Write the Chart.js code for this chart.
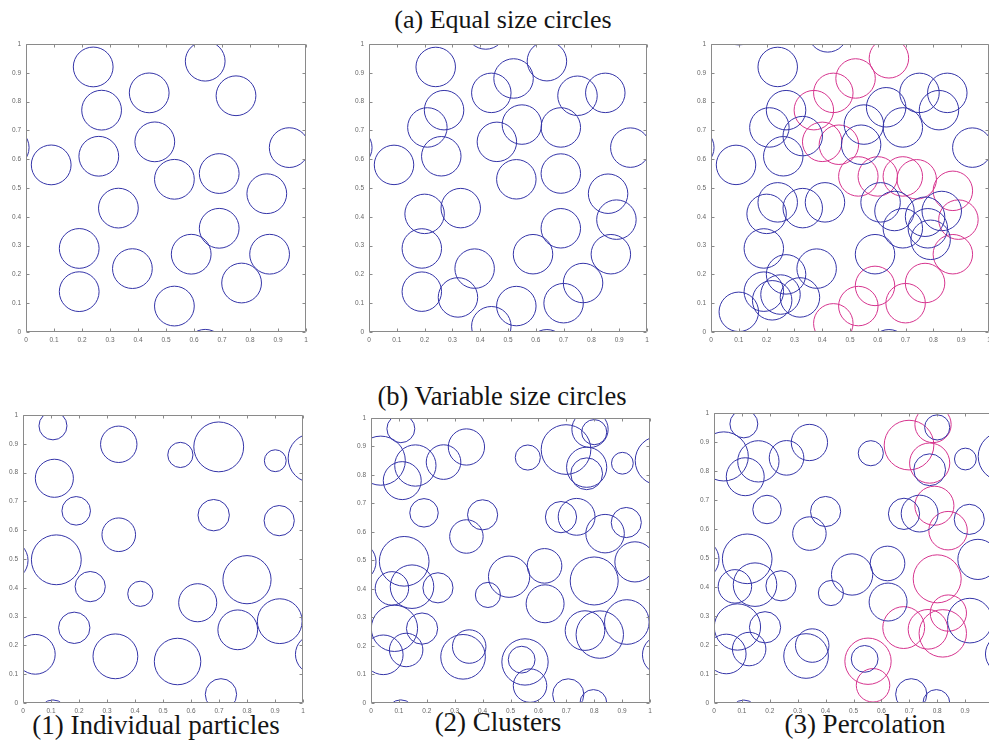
<!DOCTYPE html>
<html>
<head>
<meta charset="utf-8">
<script src="https://cdn.jsdelivr.net/npm/chart.js@4/dist/chart.umd.min.js"></script>
<style>
  html, body { margin: 0; padding: 0; background: #fff; }
  body { position: relative; width: 989px; height: 747px; overflow: hidden; }
  canvas { position: absolute; }
  .cap {
    position: absolute; width: 400px; text-align: center; white-space: nowrap;
    font-family: "Times New Roman", "Liberation Serif", Times, serif; line-height: 1; color: #141414;
  }
</style>
</head>
<body>
<div class="cap" style="left:303px; top:7px; font-size:26px;">(a) Equal size circles</div>
<div class="cap" style="left:302px; top:383px; font-size:26.5px;">(b) Variable size circles</div>
<div class="cap" style="left:-44px; top:712px; font-size:27px;">(1) Individual particles</div>
<div class="cap" style="left:298px; top:709px; font-size:27px;">(2) Clusters</div>
<div class="cap" style="left:665px; top:711px; font-size:27px;">(3) Percolation</div>

<script>
// ---- axis tick labels (both axes run 0..1) ----
const tickLabels = ['0', '0.1', '0.2', '0.3', '0.4', '0.5', '0.6', '0.7', '0.8', '0.9', '1'];

// ---- equal size circles: common radius, centres [x, y] ----
const equalRadius = 0.071;

const equalIndividual = [
  [0.24, 0.92], [0.64, 0.94], [0.44, 0.83], [0.75, 0.82], [0.27, 0.77], [0.46, 0.66],
  [0.94, 0.64], [-0.06, 0.64], [0.09, 0.58], [0.26, 0.61], [0.53, 0.53], [0.69, 0.55],
  [0.86, 0.48], [0.33, 0.43], [0.69, 0.36], [0.19, 0.29], [0.38, 0.22], [0.59, 0.27],
  [0.87, 0.27], [0.19, 0.14], [0.77, 0.17], [0.53, 0.09], [0.64, -0.06]
];

const equalClusters = [
  [0.24, 0.92], [0.42, 1.05], [0.64, 0.94], [0.52, 0.88], [0.44, 0.83], [0.75, 0.82],
  [0.85, 0.83], [0.27, 0.77], [0.21, 0.71], [0.55, 0.72], [0.69, 0.71], [0.46, 0.66],
  [0.94, 0.64], [-0.06, 0.64], [0.09, 0.58], [0.26, 0.61], [0.53, 0.53], [0.69, 0.55],
  [0.86, 0.48], [0.20, 0.41], [0.33, 0.43], [0.89, 0.39], [0.69, 0.36], [0.19, 0.29],
  [0.59, 0.27], [0.87, 0.27], [0.38, 0.22], [0.77, 0.17], [0.19, 0.14], [0.32, 0.12],
  [0.53, 0.09], [0.70, 0.10], [0.44, 0.02], [0.64, -0.06]
];

const equalPercolationOther = [
  [0.10, 1.065], [0.42, 1.04], [0.24, 0.92], [0.75, 0.83], [0.85, 0.83], [0.82, 0.77],
  [0.63, 0.78], [0.27, 0.77], [0.21, 0.71], [0.55, 0.72], [0.69, 0.71], [0.33, 0.68],
  [0.54, 0.65], [0.94, 0.64], [-0.06, 0.64], [0.26, 0.61], [0.09, 0.58], [0.20, 0.41],
  [0.24, 0.45], [0.33, 0.43], [0.41, 0.45], [0.61, 0.45], [0.66, 0.42], [0.69, 0.36],
  [0.77, 0.40], [0.78, 0.36], [0.83, 0.42], [0.79, 0.32], [0.19, 0.29], [0.59, 0.27],
  [0.38, 0.22], [0.27, 0.20], [0.19, 0.14], [0.22, 0.11], [0.25, 0.13], [0.32, 0.12],
  [0.10, 0.07], [0.64, -0.06]
];

const equalPercolationSpanning = [
  [0.64, 0.95], [0.52, 0.88], [0.44, 0.83], [0.37, 0.77], [0.40, 0.66], [0.46, 0.65],
  [0.53, 0.54], [0.60, 0.54], [0.69, 0.54], [0.74, 0.53], [0.87, 0.49], [0.89, 0.39],
  [0.87, 0.27], [0.77, 0.17], [0.70, 0.10], [0.59, 0.16], [0.53, 0.09], [0.44, 0.03]
];

// ---- variable size circles: [x, y, radius] ----
const variableIndividual = [
  [0.107, 0.962, 0.05], [0.342, 0.898, 0.065], [0.562, 0.861, 0.045], [0.699, 0.889, 0.089],
  [0.901, 0.841, 0.039], [1.035, 0.85, 0.088], [0.112, 0.78, 0.068], [0.19, 0.667, 0.051],
  [0.342, 0.584, 0.06], [0.681, 0.652, 0.056], [0.915, 0.633, 0.054], [0.119, 0.497, 0.089],
  [-0.054, 0.495, 0.072], [0.24, 0.404, 0.054], [0.419, 0.379, 0.045], [0.80, 0.428, 0.086],
  [0.624, 0.348, 0.068], [0.917, 0.284, 0.08], [0.767, 0.254, 0.071], [0.183, 0.261, 0.056],
  [0.044, 0.169, 0.071], [1.044, 0.169, 0.071], [0.33, 0.162, 0.08], [0.552, 0.144, 0.083],
  [0.707, 0.03, 0.056], [0.107, -0.038, 0.05]
];

const variableClusters = [
  [0.107, 0.962, 0.05], [0.342, 0.898, 0.065], [0.562, 0.861, 0.045], [0.699, 0.889, 0.089],
  [0.901, 0.841, 0.039], [1.035, 0.85, 0.088], [0.035, 0.85, 0.088], [0.112, 0.78, 0.068],
  [0.159, 0.833, 0.074], [0.26, 0.845, 0.062], [0.785, 0.96, 0.065], [0.80, 0.95, 0.045],
  [0.773, 0.827, 0.072], [0.773, 0.804, 0.057], [0.19, 0.667, 0.051], [0.342, 0.584, 0.06],
  [0.40, 0.66, 0.054], [0.681, 0.652, 0.056], [0.737, 0.653, 0.066], [0.915, 0.633, 0.054],
  [0.839, 0.594, 0.069], [0.119, 0.497, 0.089], [-0.054, 0.495, 0.072], [0.946, 0.495, 0.072],
  [0.075, 0.402, 0.06], [0.147, 0.408, 0.078], [0.24, 0.404, 0.054], [0.419, 0.379, 0.045],
  [0.495, 0.443, 0.074], [0.622, 0.481, 0.062], [0.80, 0.428, 0.086], [0.624, 0.348, 0.068],
  [0.917, 0.284, 0.08], [0.767, 0.254, 0.071], [0.82, 0.24, 0.085], [0.183, 0.261, 0.056],
  [0.084, 0.262, 0.083], [0.044, 0.169, 0.071], [1.044, 0.169, 0.071], [0.126, 0.186, 0.06],
  [0.33, 0.162, 0.08], [0.352, 0.198, 0.06], [0.552, 0.144, 0.083], [0.54, 0.152, 0.048],
  [0.57, 0.061, 0.06], [0.707, 0.03, 0.056], [0.797, 0.0, 0.048], [0.107, -0.038, 0.05]
];

const variablePercolationOther = [
  [0.107, 0.962, 0.05], [0.342, 0.898, 0.065], [0.562, 0.861, 0.045], [0.901, 0.841, 0.039],
  [1.035, 0.85, 0.088], [0.035, 0.85, 0.088], [0.112, 0.78, 0.068], [0.159, 0.833, 0.074],
  [0.26, 0.845, 0.062], [0.80, 0.95, 0.045], [0.773, 0.804, 0.057], [0.19, 0.667, 0.051],
  [0.342, 0.584, 0.06], [0.40, 0.66, 0.054], [0.681, 0.652, 0.056], [0.737, 0.653, 0.066],
  [0.915, 0.633, 0.054], [0.119, 0.497, 0.089], [-0.054, 0.495, 0.072], [0.946, 0.495, 0.072],
  [0.075, 0.402, 0.06], [0.147, 0.408, 0.078], [0.24, 0.404, 0.054], [0.419, 0.379, 0.045],
  [0.495, 0.443, 0.074], [0.622, 0.481, 0.062], [0.624, 0.348, 0.068], [0.917, 0.284, 0.08],
  [0.183, 0.261, 0.056], [0.084, 0.262, 0.083], [0.044, 0.169, 0.071], [1.044, 0.169, 0.071],
  [0.126, 0.186, 0.06], [0.33, 0.162, 0.08], [0.352, 0.198, 0.06], [0.54, 0.152, 0.048],
  [0.707, 0.03, 0.056], [0.797, 0.0, 0.048], [0.107, -0.038, 0.05]
];

const variablePercolationSpanning = [
  [0.785, 0.96, 0.065], [0.699, 0.889, 0.089], [0.773, 0.827, 0.072], [0.79, 0.68, 0.07],
  [0.839, 0.594, 0.069], [0.80, 0.428, 0.086], [0.84, 0.31, 0.065], [0.82, 0.24, 0.085],
  [0.767, 0.254, 0.071], [0.68, 0.26, 0.075], [0.552, 0.144, 0.083], [0.57, 0.061, 0.06]
];

// ---- drawing ----
const BLUE = 'rgb(52, 52, 168)';
const MAGENTA = 'rgb(214, 52, 142)';
const AXIS_GREY = '#8a8a8a';
const Y_AXIS_W = 26, X_AXIS_H = 18, PAD_T = 8, PAD_R = 10;

const toPoints = (list, radius) => list.map(([x, y, r]) => ({ x, y, r: r ?? radius }));

// circle radius in data units converted to pixels by the x scale
function radiusPx(ctx) {
  if (!ctx.raw) return 0;
  const s = ctx.chart.scales.x;
  return Math.abs(s.getPixelForValue(ctx.raw.r) - s.getPixelForValue(0));
}

// closed box with inward tick marks on all four sides
const axesBox = {
  id: 'axesBox',
  afterDraw(chart) {
    const { ctx, chartArea: a, scales: { x, y } } = chart;
    const L = Math.round(a.left) + 0.5, R = Math.round(a.right) - 0.5;
    const T = Math.round(a.top) + 0.5, B = Math.round(a.bottom) - 0.5;
    ctx.save();
    ctx.strokeStyle = AXIS_GREY;
    ctx.lineWidth = 1;
    ctx.beginPath();
    ctx.rect(L, T, R - L, B - T);
    x.ticks.forEach(t => {
      const p = Math.round(x.getPixelForValue(t.value)) + 0.5;
      ctx.moveTo(p, B); ctx.lineTo(p, B - 3);
      ctx.moveTo(p, T); ctx.lineTo(p, T + 3);
    });
    y.ticks.forEach(t => {
      const p = Math.round(y.getPixelForValue(t.value)) + 0.5;
      ctx.moveTo(L, p); ctx.lineTo(L + 3, p);
      ctx.moveTo(R, p); ctx.lineTo(R - 3, p);
    });
    ctx.stroke();
    ctx.restore();
  }
};

function axis(which) {
  return {
    type: 'linear', min: 0, max: 1,
    grid: { display: false, drawTicks: false },
    border: { display: false },
    ticks: {
      stepSize: 0.1, autoSkip: false, maxRotation: 0,
      padding: which === 'x' ? 4 : 5,
      color: '#666',
      font: { family: '"Liberation Sans", Arial, sans-serif', size: 6.5 },
      callback: (v, i) => tickLabels[i]
    },
    afterFit: s => { if (which === 'x') s.height = X_AXIS_H; else s.width = Y_AXIS_W; }
  };
}

function panel(box, sets) {
  const cv = document.createElement('canvas');
  cv.width = Y_AXIS_W + box.w + PAD_R;
  cv.height = PAD_T + box.h + X_AXIS_H;
  cv.style.left = (box.left - Y_AXIS_W) + 'px';
  cv.style.top = (box.top - PAD_T) + 'px';
  document.body.appendChild(cv);
  new Chart(cv, {
    type: 'scatter',
    data: {
      datasets: sets.map(s => ({
        data: s.points,
        borderColor: s.color,
        backgroundColor: 'rgba(0,0,0,0)',
        borderWidth: 1,
        pointRadius: radiusPx,
        pointHoverRadius: radiusPx,
        clip: 0
      }))
    },
    options: {
      responsive: false, animation: false, events: [],
      layout: { padding: { top: PAD_T, right: PAD_R, left: 0, bottom: 0 } },
      plugins: { legend: { display: false }, tooltip: { enabled: false } },
      scales: { x: axis('x'), y: axis('y') }
    },
    plugins: [axesBox]
  });
}

panel({ left: 26, top: 43, w: 280, h: 289 }, [
  { points: toPoints(equalIndividual, equalRadius), color: BLUE }
]);
panel({ left: 369, top: 43, w: 278, h: 289 }, [
  { points: toPoints(equalClusters, equalRadius), color: BLUE }
]);
panel({ left: 711, top: 43, w: 278, h: 289 }, [
  { points: toPoints(equalPercolationOther, equalRadius), color: BLUE },
  { points: toPoints(equalPercolationSpanning, equalRadius), color: MAGENTA }
]);
panel({ left: 23, top: 414, w: 280, h: 289 }, [
  { points: toPoints(variableIndividual), color: BLUE }
]);
panel({ left: 371, top: 417, w: 279, h: 286 }, [
  { points: toPoints(variableClusters), color: BLUE }
]);
panel({ left: 714, top: 412, w: 279, h: 291 }, [
  { points: toPoints(variablePercolationOther), color: BLUE },
  { points: toPoints(variablePercolationSpanning), color: MAGENTA }
]);
</script>
</body>
</html>
